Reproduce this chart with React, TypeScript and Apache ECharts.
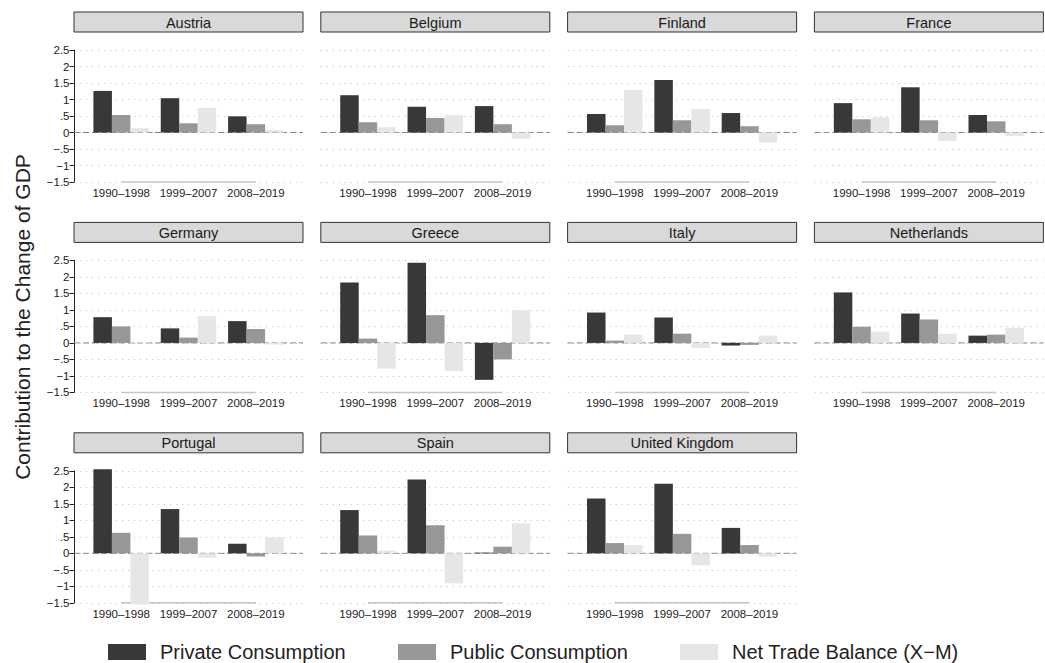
import { useEffect, useRef } from 'react';
import * as echarts from 'echarts';

// Periods on each panel's x axis
const periods = ['1990–1998', '1999–2007', '2008–2019'];

const countries = [
  'Austria', 'Belgium', 'Finland', 'France',
  'Germany', 'Greece', 'Italy', 'Netherlands',
  'Portugal', 'Spain', 'United Kingdom',
];

// Contributions (percentage points) per country, one value per period
const privateConsumption = [
  [1.26, 1.04, 0.49],
  [1.13, 0.78, 0.80],
  [0.56, 1.59, 0.59],
  [0.89, 1.37, 0.53],
  [0.78, 0.44, 0.66],
  [1.83, 2.43, -1.12],
  [0.92, 0.77, -0.08],
  [1.53, 0.89, 0.22],
  [2.55, 1.34, 0.29],
  [1.31, 2.24, 0.02],
  [1.66, 2.11, 0.77],
];

const publicConsumption = [
  [0.53, 0.28, 0.25],
  [0.31, 0.44, 0.25],
  [0.22, 0.37, 0.19],
  [0.40, 0.37, 0.34],
  [0.50, 0.16, 0.42],
  [0.13, 0.84, -0.50],
  [0.07, 0.28, -0.06],
  [0.49, 0.71, 0.25],
  [0.62, 0.48, -0.10],
  [0.54, 0.85, 0.20],
  [0.31, 0.59, 0.25],
];

const netTradeBalance = [
  [0.13, 0.75, 0.07],
  [0.16, 0.53, -0.19],
  [1.29, 0.71, -0.31],
  [0.46, -0.26, -0.11],
  [0.02, 0.81, -0.05],
  [-0.78, -0.85, 0.99],
  [0.25, -0.16, 0.22],
  [0.34, 0.28, 0.46],
  [-1.55, -0.13, 0.48],
  [0.08, -0.91, 0.91],
  [0.25, -0.37, -0.10],
];

const seriesNames = ['Private Consumption', 'Public Consumption', 'Net Trade Balance (X−M)'];

// Y axis scale and its tick labels
const yMin = -1.5;
const yMax = 2.5;
const yStep = 0.5;
const yTickLabels = ['−1.5', '−1', '−.5', '0', '.5', '1', '1.5', '2', '2.5'];

const yTitle = 'Contribution to the Change of GDP';

// Styling and layout
const seriesColors = ['#383838', '#979797', '#e6e6e6'];
const FONT = '"Liberation Sans", Arial, Helvetica, sans-serif';
const COL_X0 = 74;
const COL_STEP = 246.8;
const FRAME_W = 229;
const BAR_INSET = 13.5;
const BAR_W = 202;
const ROW_Y0 = 50;
const ROW_STEP = 210.4;
const PLOT_H = 132;
const HEADER_GAP = 38;
const HEADER_H = 20;
const LEGEND_LEFTS = [108, 398, 680];

function buildOption() {
  const grid: any[] = [];
  const xAxis: any[] = [];
  const yAxis: any[] = [];
  const series: any[] = [];
  const graphic: any[] = [];
  const valueSets = [privateConsumption, publicConsumption, netTradeBalance];

  const yFormatter = (v: number) => yTickLabels[Math.round((v - yMin) / yStep)] ?? '';

  countries.forEach((name, p) => {
    const r = Math.floor(p / 4);
    const c = p % 4;
    const left = COL_X0 + c * COL_STEP;
    const top = ROW_Y0 + r * ROW_STEP;
    const fi = 2 * p;
    const bi = 2 * p + 1;

    // frame grid: gridlines, y axis, zero line
    grid.push({ left, top, width: FRAME_W, height: PLOT_H });
    // bar grid: category axis and bars
    grid.push({ left: left + BAR_INSET, top, width: BAR_W, height: PLOT_H });

    xAxis.push({ type: 'value', gridIndex: fi, min: 0, max: 1, show: false });
    xAxis.push({
      type: 'category',
      gridIndex: bi,
      data: periods,
      axisLine: { show: false },
      axisTick: { show: false },
      axisLabel: {
        interval: 0,
        hideOverlap: false,
        fontSize: 11.5,
        color: '#222',
        margin: 5,
        fontFamily: FONT,
      },
    });

    yAxis.push({
      type: 'value',
      gridIndex: fi,
      min: yMin,
      max: yMax,
      interval: yStep,
      offset: c === 0 ? 1.5 : 0,
      axisLine: { show: c === 0, lineStyle: { color: '#222', width: 1 } },
      axisTick: { show: c === 0, length: 4.5, lineStyle: { color: '#222', width: 1 } },
      axisLabel: { show: c === 0, fontSize: 11.5, color: '#222', margin: 3, formatter: yFormatter, fontFamily: FONT },
      splitLine: { show: true, lineStyle: { color: '#c9c9c9', width: 1, type: [1.2, 4.8] } },
    });
    yAxis.push({
      type: 'value',
      gridIndex: bi,
      min: yMin,
      max: yMax,
      interval: yStep,
      show: false,
      splitLine: { show: false },
    });

    // dashed zero reference line
    series.push({
      type: 'line',
      name: 'zero-' + name,
      xAxisIndex: fi,
      yAxisIndex: fi,
      data: [[0, 0], [1, 0]],
      symbol: 'none',
      silent: true,
      lineStyle: { color: '#8a8a8a', width: 1, type: [6, 3] },
      z: 1,
    });
    // x axis baseline between first and last period
    series.push({
      type: 'line',
      name: 'base-' + name,
      xAxisIndex: bi,
      yAxisIndex: bi,
      data: [[periods[0], yMin], [periods[periods.length - 1], yMin]],
      symbol: 'none',
      silent: true,
      clip: false,
      lineStyle: { color: '#c4c4c4', width: 1.5 },
      z: 1,
    });

    valueSets.forEach((vals, s) => {
      series.push({
        type: 'bar',
        name: seriesNames[s],
        xAxisIndex: bi,
        yAxisIndex: bi,
        data: vals[p],
        barWidth: 18.5,
        barGap: '0%',
        clip: false,
        itemStyle: { color: seriesColors[s] },
        silent: true,
        z: 2,
      });
    });

    // panel header strip
    const hy = top - HEADER_GAP;
    graphic.push({
      type: 'rect',
      shape: { x: left, y: hy, width: FRAME_W, height: HEADER_H },
      style: { fill: '#d9d9d9', stroke: '#333', lineWidth: 1 },
      silent: true,
    });
    graphic.push({
      type: 'text',
      x: left + FRAME_W / 2,
      y: hy + HEADER_H / 2 + 0.5,
      style: {
        text: name,
        fontSize: 14.5,
        fontFamily: FONT,
        fontWeight: 'normal',
        fill: '#1a1a1a',
        align: 'center',
        verticalAlign: 'middle',
        textAlign: 'center',
        textVerticalAlign: 'middle',
      },
      silent: true,
    });
  });

  // shared y axis title
  graphic.push({
    type: 'text',
    x: 22,
    y: 317,
    rotation: Math.PI / 2,
    style: {
      text: yTitle,
      fontSize: 21,
      fontFamily: FONT,
      fontWeight: 'normal',
      fill: '#222',
      align: 'center',
      verticalAlign: 'middle',
      textAlign: 'center',
      textVerticalAlign: 'middle',
    },
    silent: true,
  });

  const legend = seriesNames.map((n, i) => ({
    data: [n],
    left: LEGEND_LEFTS[i],
    top: 642,
    padding: 0,
    itemWidth: 38,
    itemHeight: 16,
    icon: 'rect',
    selectedMode: false,
    textStyle: { fontSize: 20, color: '#222', fontFamily: FONT, padding: [0, 0, 0, 9], lineHeight: 20 },
  }));

  return {
    animation: false,
    backgroundColor: '#ffffff',
    textStyle: { fontFamily: FONT },
    grid,
    xAxis,
    yAxis,
    series,
    legend,
    graphic,
  };
}

export default function App() {
  const ref = useRef<HTMLDivElement>(null);

  useEffect(() => {
    if (!ref.current) return;
    const chart = echarts.init(ref.current, undefined, { renderer: 'svg' });
    chart.setOption(buildOption() as any);
    return () => chart.dispose();
  }, []);

  return (
    <div
      ref={ref}
      style={{ position: 'fixed', left: 0, top: 0, width: 1045, height: 663, background: '#fff' }}
    />
  );
}
